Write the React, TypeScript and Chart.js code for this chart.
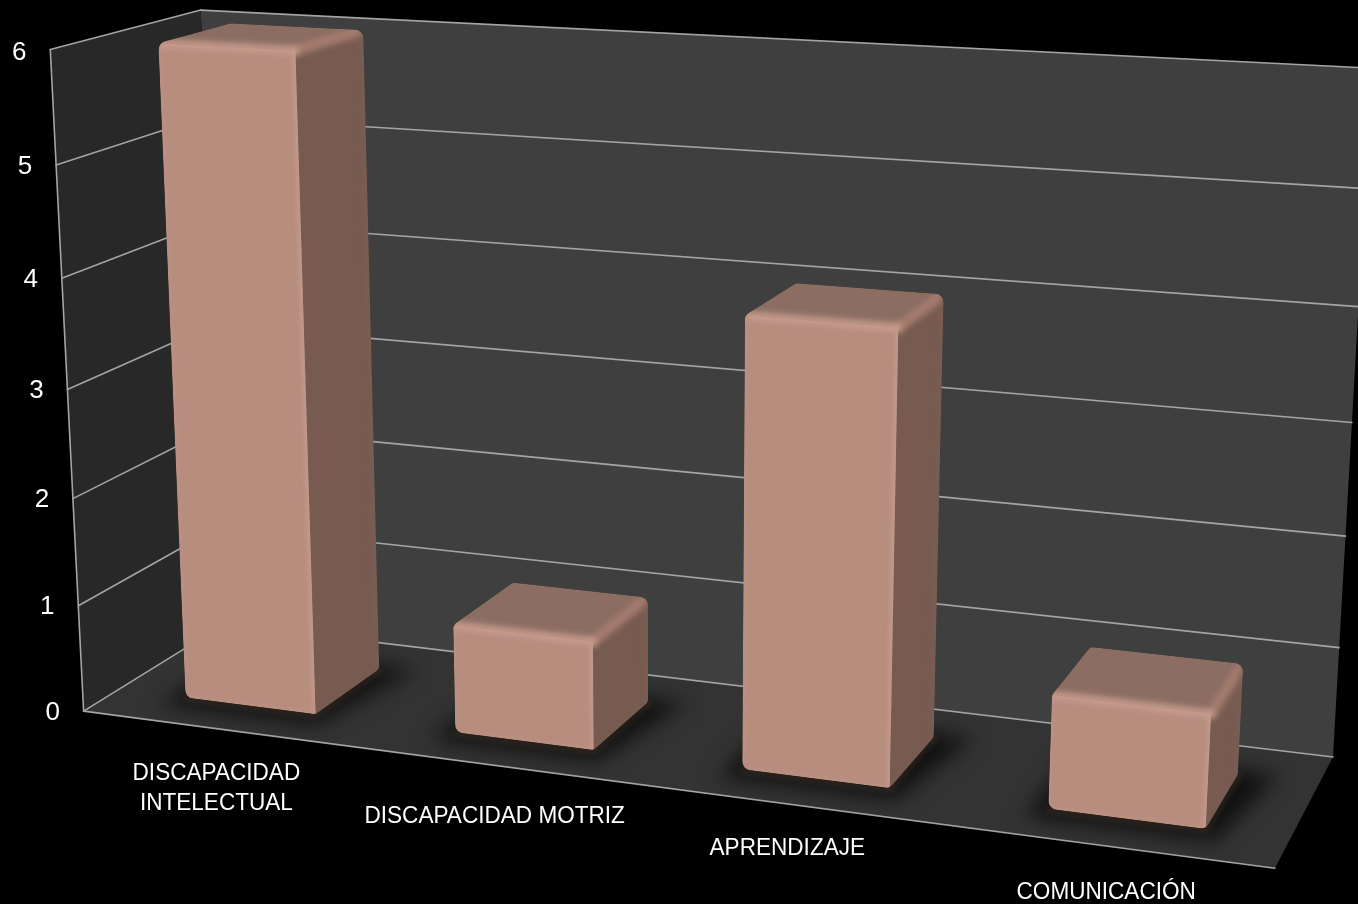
import React, { useEffect, useRef } from "react";
import { Chart, registerables } from "chart.js";

Chart.register(...registerables);

const categories: (string | string[])[] = [
  ["DISCAPACIDAD", "INTELECTUAL"],
  "DISCAPACIDAD MOTRIZ",
  "APRENDIZAJE",
  "COMUNICACIÓN",
];
const seriesValues = [6, 1, 4, 1];
const yTicks = { min: 0, max: 6, stepSize: 1 };

// Camera calibration: [u, t, z] in the unit box -> canvas position.
const CAMERA: [number, number, number, number, number][] = [
  [0, 0, 0, 83, 712],
  [1, 0, 0, 1275, 868],
  [1, 0, 1, 1333, 757],
  [0, 0, 1, 224, 624],
  [0, 1, 0, 49, 50],
  [0, 1, 1, 201, 10],
  [1, 1, 1, 1372, 68],
  [0, 1 / 6, 0, 79, 605],
  [0, 4 / 6, 0, 62, 278],
  [0, 5 / 6, 0, 57, 165],
  [1, 1 / 6, 1, 1339, 648],
];
const BAR_Z = [0.24, 0.735];
const BAR_PERCENT = 0.49;
const LABEL_NUDGE: P[] = [
  [0, 0],
  [0, 6],
  [-4, -1],
  [-2, 1],
];
const FONT = '"Liberation Sans", Arial, sans-serif';

function solveCamera(): number[] {
  const n = 11;
  const A = Array.from({ length: n }, () => new Array(n + 1).fill(0));
  const add = (row: number[], rhs: number) => {
    for (let i = 0; i < n; i++) {
      for (let j = 0; j < n; j++) A[i][j] += row[i] * row[j];
      A[i][n] += row[i] * rhs;
    }
  };
  for (const [x, y, z, X, Y] of CAMERA) {
    add([x, y, z, 1, 0, 0, 0, 0, -X * x, -X * y, -X * z], X);
    add([0, 0, 0, 0, x, y, z, 1, -Y * x, -Y * y, -Y * z], Y);
  }
  for (let c = 0; c < n; c++) {
    let p = c;
    for (let r = c + 1; r < n; r++) if (Math.abs(A[r][c]) > Math.abs(A[p][c])) p = r;
    [A[c], A[p]] = [A[p], A[c]];
    for (let r = 0; r < n; r++) {
      if (r === c) continue;
      const f = A[r][c] / A[c][c];
      for (let k = c; k <= n; k++) A[r][k] -= f * A[c][k];
    }
  }
  return A.map((r, i) => r[n] / r[i]);
}
const M = solveCamera();
type P = [number, number];
const proj = (u: number, t: number, z: number): P => {
  const w = M[8] * u + M[9] * t + M[10] * z + 1;
  return [
    (M[0] * u + M[1] * t + M[2] * z + M[3]) / w,
    (M[4] * u + M[5] * t + M[6] * z + M[7]) / w,
  ];
};

function poly(ctx: CanvasRenderingContext2D, pts: P[]) {
  ctx.beginPath();
  pts.forEach((p, i) => (i ? ctx.lineTo(p[0], p[1]) : ctx.moveTo(p[0], p[1])));
  ctx.closePath();
}
function roundPoly(ctx: CanvasRenderingContext2D, pts: P[], r: number) {
  ctx.beginPath();
  const n = pts.length;
  const m: P = [(pts[n - 1][0] + pts[0][0]) / 2, (pts[n - 1][1] + pts[0][1]) / 2];
  ctx.moveTo(m[0], m[1]);
  for (let i = 0; i < n; i++) {
    const a = pts[i];
    const b = pts[(i + 1) % n];
    ctx.arcTo(a[0], a[1], b[0], b[1], r);
  }
  ctx.closePath();
}
function seg(ctx: CanvasRenderingContext2D, a: P, b: P, color: string, width: number) {
  ctx.strokeStyle = color;
  ctx.lineWidth = width;
  ctx.beginPath();
  ctx.moveTo(a[0], a[1]);
  ctx.lineTo(b[0], b[1]);
  ctx.stroke();
}
function squeezedText(ctx: CanvasRenderingContext2D, s: string, x: number, y: number, sx: number) {
  ctx.save();
  ctx.translate(x, y);
  ctx.scale(sx, 1);
  ctx.fillText(s, 0, 0);
  ctx.restore();
}

const LINE = "#a4a4a4";

const box3d = {
  id: "box3d",
  beforeDatasetsDraw(chart: any) {
    const { ctx } = chart;
    const y = chart.scales.y;
    const area = chart.chartArea;
    const tOf = (v: number) => (area.bottom - y.getPixelForValue(v)) / (area.bottom - area.top);
    ctx.save();
    // Walls and floor
    poly(ctx, [proj(0, 0, 1), proj(1, 0, 1), proj(1, 1, 1), proj(0, 1, 1)]);
    ctx.fillStyle = "#3f3f3f";
    ctx.fill();
    poly(ctx, [proj(0, 0, 0), proj(0, 0, 1), proj(0, 1, 1), proj(0, 1, 0)]);
    ctx.fillStyle = "#282828";
    ctx.fill();
    poly(ctx, [proj(0, 0, 0), proj(1, 0, 0), proj(1, 0, 1), proj(0, 0, 1)]);
    ctx.fillStyle = "#333333";
    ctx.fill();
    // Gridlines
    ctx.lineCap = "round";
    for (const tick of y.ticks) {
      const t = tOf(tick.value);
      seg(ctx, proj(0, t, 0), proj(0, t, 1), LINE, 1.6);
      seg(ctx, proj(0, t, 1), proj(1, t, 1), LINE, 1.6);
    }
    seg(ctx, proj(0, 0, 0), proj(0, 1, 0), LINE, 1.6);
    seg(ctx, proj(0, 0, 0), proj(1, 0, 0), LINE, 1.6);

    // Y tick labels
    ctx.fillStyle = "#ffffff";
    ctx.font = `26px ${FONT}`;
    ctx.textAlign = "center";
    ctx.textBaseline = "middle";
    for (const tick of y.ticks) {
      const p = proj(0, tOf(tick.value), 0);
      ctx.fillText(String(tick.value), p[0] - 31, p[1] + (tick.value === 6 ? 3 : 1.5));
    }
    // Category labels
    const x = chart.scales.x;
    ctx.font = `23.4px ${FONT}`;
    categories.forEach((c, i) => {
      const u = (x.getPixelForValue(i) - area.left) / (area.right - area.left);
      const p = proj(u, 0, 0);
      const lines = Array.isArray(c) ? c : [c];
      const [nx, ny] = LABEL_NUDGE[i];
      lines.forEach((l, k) => squeezedText(ctx, l, p[0] + nx, p[1] + 45 + ny + k * 30, 0.965));
    });

    // Floor shadows
    const meta = chart.getDatasetMeta(0);
    ctx.save();
    poly(ctx, [proj(0, 0, 0), proj(1, 0, 0), proj(1, 0, 1), proj(0, 0, 1)]);
    ctx.clip();
    for (const el of meta.data) {
      const { x: ex, width } = el.getProps(["x", "width"], true);
      const u0 = (ex - width / 2 - area.left) / (area.right - area.left);
      const u1 = (ex + width / 2 - area.left) / (area.right - area.left);
      const [z0, z1] = BAR_Z;
      ctx.filter = "blur(10px)";
      ctx.fillStyle = "#111111";
      poly(ctx, [
        proj(u0 - 0.012, 0, z0 - 0.09),
        proj(u1 + 0.012, 0, z0 - 0.09),
        proj(u1 + 0.03, 0, z1 + 0.04),
        proj(u0 - 0.012, 0, z1 + 0.04),
      ]);
      ctx.fill();
      ctx.filter = "blur(3px)";
      ctx.strokeStyle = "rgba(120,80,55,0.5)";
      ctx.lineWidth = 3;
      const a = proj(u0, 0, z0);
      const b = proj(u1, 0, z0);
      const c = proj(u1, 0, z1);
      ctx.beginPath();
      ctx.moveTo(a[0], a[1] + 1);
      ctx.lineTo(b[0], b[1] + 1);
      ctx.lineTo(c[0] + 1, c[1]);
      ctx.stroke();
      ctx.filter = "none";
    }
    ctx.restore();
    ctx.restore();
  },
  afterDatasetsDraw(chart: any) {
    const { ctx } = chart;
    const area = chart.chartArea;
    const W = area.right - area.left;
    const H = area.bottom - area.top;
    const meta = chart.getDatasetMeta(0);
    const [z0, z1] = BAR_Z;
    for (const el of meta.data) {
      const { x: ex, y: ey, base, width } = el.getProps(["x", "y", "base", "width"], true);
      const u0 = (ex - width / 2 - area.left) / W;
      const u1 = (ex + width / 2 - area.left) / W;
      const t1 = (area.bottom - ey) / H;
      const t0 = (area.bottom - base) / H;
      const ftl = proj(u0, t1, z0);
      const ftr = proj(u1, t1, z0);
      const fbl = proj(u0, t0, z0);
      const fbr = proj(u1, t0, z0);
      const btl = proj(u0, t1, z1);
      const btr = proj(u1, t1, z1);
      const bbr = proj(u1, t0, z1);

      ctx.save();
      ctx.lineCap = "round";
      roundPoly(ctx, [ftl, btl, btr, bbr, fbr, fbl], 9);
      ctx.clip();
      // Side, top, front faces
      poly(ctx, [ftr, btr, bbr, fbr]);
      ctx.fillStyle = "#775b50";
      ctx.fill();
      poly(ctx, [ftl, btl, btr, ftr]);
      ctx.fillStyle = "#8b6d62";
      ctx.fill();
      // Soft bevels on top and side
      ctx.filter = "blur(3px)";
      seg(ctx, ftr, btr, "#a67d6f", 10);
      seg(ctx, btr, bbr, "#7e6155", 3);
      ctx.filter = "none";
      poly(ctx, [ftl, ftr, fbr, fbl]);
      ctx.fillStyle = "#b78d7e";
      ctx.fill();
      // Soft bevels on the front, vertical ones kept inside the face
      ctx.filter = "blur(3px)";
      seg(ctx, ftl, ftr, "#c89d8e", 8);
      ctx.filter = "none";
      ctx.save();
      poly(ctx, [ftl, ftr, fbr, fbl]);
      ctx.clip();
      ctx.filter = "blur(2.5px)";
      seg(ctx, ftr, fbr, "#c39a8c", 6);
      seg(ctx, ftl, fbl, "#bd9385", 3);
      seg(ctx, fbl, fbr, "#bd9385", 3);
      ctx.filter = "none";
      ctx.restore();
      ctx.restore();
    }
  },
};

export default function App() {
  const ref = useRef<HTMLCanvasElement>(null);
  useEffect(() => {
    const chart = new Chart(ref.current as HTMLCanvasElement, {
      type: "bar",
      data: {
        labels: categories as any,
        datasets: [
          {
            label: "Serie",
            data: seriesValues,
            backgroundColor: "rgba(0,0,0,0)",
            borderWidth: 0,
            categoryPercentage: 1,
            barPercentage: BAR_PERCENT,
          },
        ],
      },
      options: {
        responsive: false,
        animation: false,
        devicePixelRatio: 1,
        layout: { padding: 0 },
        plugins: { legend: { display: false }, tooltip: { enabled: false }, title: { display: false } },
        scales: {
          x: { display: false, grid: { display: false } },
          y: { display: false, min: yTicks.min, max: yTicks.max, ticks: { stepSize: yTicks.stepSize } },
        },
      },
      plugins: [box3d as any],
    });
    return () => chart.destroy();
  }, []);
  return (
    <div style={{ position: "fixed", left: 0, top: 0, width: 1358, height: 904, background: "#000", overflow: "hidden" }}>
      <canvas ref={ref} width={1358} height={904} style={{ display: "block" }} />
    </div>
  );
}
